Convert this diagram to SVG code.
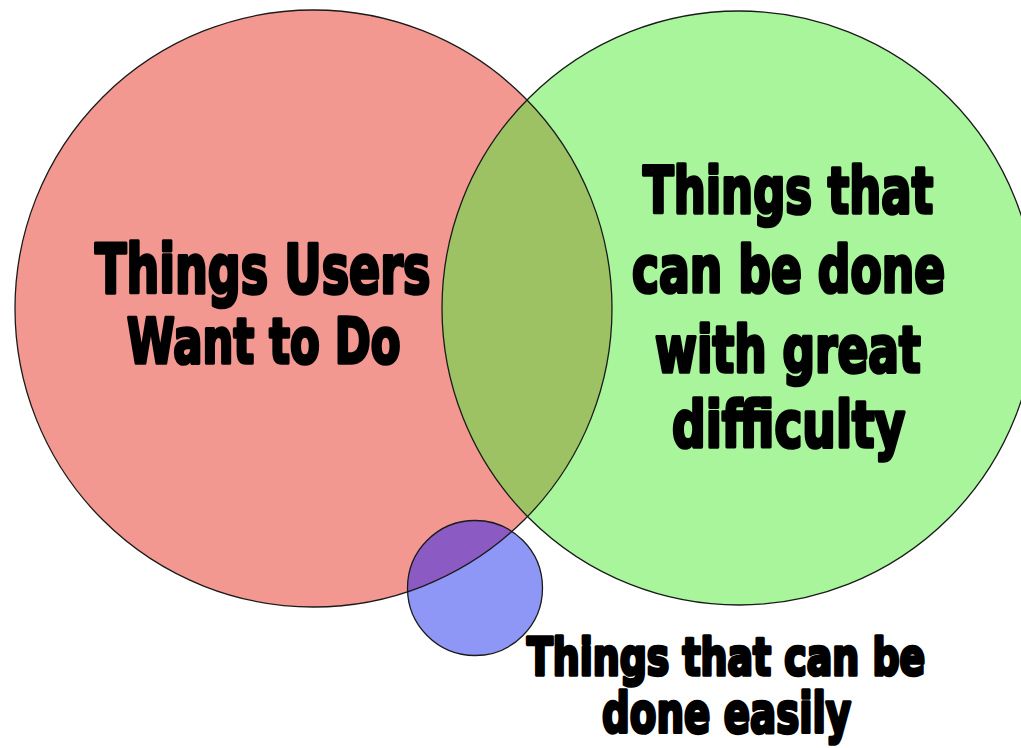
<svg xmlns="http://www.w3.org/2000/svg" width="1021" height="748" viewBox="0 0 1021 748">
  <defs>
    <clipPath id="clipRed"><circle cx="313.5" cy="308.5" r="298.5"/></clipPath>
    <clipPath id="clipGreen"><circle cx="739" cy="308" r="297"/></clipPath>
    <style>
      .outline { fill: none; stroke: #1a1a1a; stroke-width: 1.3; }
      .lbl { font-family: "DejaVu Sans", "Liberation Sans", sans-serif; font-weight: bold; fill: #000; stroke: #000; stroke-width: 3.4; stroke-linejoin: round; }
    </style>
  </defs>
  <rect width="1021" height="748" fill="#ffffff"/>

  <g id="fills">
    <circle cx="313.5" cy="308.5" r="298.5" fill="#F29891"/>
    <circle cx="739" cy="308" r="297" fill="#A8F59C"/>
    <circle cx="739" cy="308" r="297" fill="#9DC263" clip-path="url(#clipRed)"/>
    <circle cx="475" cy="588" r="67.5" fill="#8E97F5"/>
    <circle cx="475" cy="588" r="67.5" fill="#8B5AC3" clip-path="url(#clipRed)"/>
  </g>

  <g id="node-users">
    <circle class="outline" cx="313.5" cy="308.5" r="298.5"/>
    <g transform="translate(95,293) scale(0.72,1.07)">
      <text class="lbl" x="0" y="0" font-size="63" textLength="466" lengthAdjust="spacingAndGlyphs">Things Users</text>
    </g>
    <g transform="translate(127,363) scale(0.72,1.07)">
      <text class="lbl" x="0" y="0" font-size="59" textLength="380" lengthAdjust="spacingAndGlyphs">Want to Do</text>
    </g>
  </g>

  <g id="node-difficult">
    <circle class="outline" cx="739" cy="308" r="297"/>
    <g transform="translate(643,213) scale(0.72,1.07)">
      <text class="lbl" x="0" y="0" font-size="60" textLength="403" lengthAdjust="spacingAndGlyphs">Things that</text>
    </g>
    <g transform="translate(632,292) scale(0.72,1.07)">
      <text class="lbl" x="0" y="0" font-size="60" textLength="435" lengthAdjust="spacingAndGlyphs">can be done</text>
    </g>
    <g transform="translate(655,372) scale(0.72,1.07)">
      <text class="lbl" x="0" y="0" font-size="60" textLength="369" lengthAdjust="spacingAndGlyphs">with great</text>
    </g>
    <g transform="translate(672,447) scale(0.72,1.07)">
      <text class="lbl" x="0" y="0" font-size="60" textLength="324" lengthAdjust="spacingAndGlyphs">difficulty</text>
    </g>
  </g>

  <g id="node-easy">
    <circle class="outline" cx="475" cy="588" r="67.5"/>
    <g transform="translate(527,675) scale(0.72,1.07)">
      <text class="lbl" x="0" y="0" font-size="48" textLength="553" lengthAdjust="spacingAndGlyphs">Things that can be</text>
    </g>
    <g transform="translate(602,732) scale(0.72,1.07)">
      <text class="lbl" x="0" y="0" font-size="52" textLength="346" lengthAdjust="spacingAndGlyphs">done easily</text>
    </g>
  </g>

  <g id="connectors"/>
</svg>
